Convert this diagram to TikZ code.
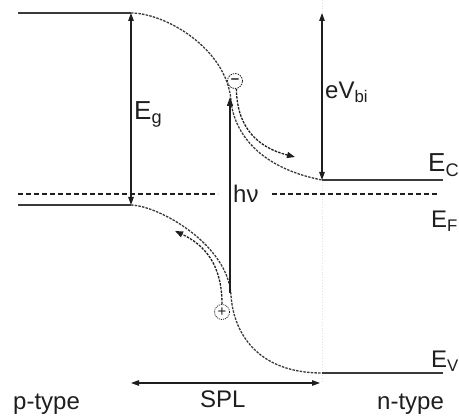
\documentclass[tikz,border=0pt]{standalone}
\usepackage{fontspec}
\setmainfont{Liberation Sans}
\usepackage{xcolor}
\definecolor{bdink}{HTML}{1E1E1E}
\definecolor{bdline}{HTML}{3A3A3A}
\definecolor{bdfaint}{HTML}{E2E2E2}
\usetikzlibrary{arrows.meta,positioning,calc}
\tikzset{
  bdband/.style   ={line width=1.4pt, draw=bdline},
  bdbend/.style   ={line width=1.3pt, draw=bdline, dash pattern=on 2.5pt off 1.2pt},
  bdfermi/.style  ={line width=1.1pt, draw=bdink, dash pattern=on 5pt off 3pt},
  bdarrow/.style  ={{Triangle[length=8pt,width=5.5pt]}-{Triangle[length=8pt,width=5.5pt]},
                    line width=1.2pt, draw=bdink},
  bdphoton/.style ={-{Triangle[length=9pt,width=6pt]}, line width=1.4pt, draw=bdink},
  bdpath/.style   ={-{Triangle[length=8pt,width=6pt]}, line width=1.3pt, draw=bdink,
                    dash pattern=on 2.5pt off 1.2pt},
  bdcarrier/.style={circle, draw=bdink, line width=0.8pt, dash pattern=on 1.5pt off 1pt,
                    minimum size=15pt, inner sep=0pt, text=bdink,
                    font=\fontsize{15}{15}\selectfont},
  bdlbl/.style    ={font=\fontsize{24}{28}\selectfont, text=bdink, inner sep=0pt,
                    anchor=base west},
  bdlble/.style   ={bdlbl, font=\fontsize{26}{30}\selectfont},
}

\begin{document}
\begin{tikzpicture}[x=1pt, y=-1pt]
  \useasboundingbox (0,0) rectangle (459,417);
  % band edges and fixed points
  \coordinate (cbL) at (18,13);
  \coordinate (cbA) at (131,13);
  \coordinate (cbM) at (231,100);
  \coordinate (cbB) at (322,180);
  \coordinate (cbR) at (443,180);
  \coordinate (vbL) at (18,205);
  \coordinate (vbA) at (131,205);
  \coordinate (vbM) at (231,295);
  \coordinate (vbB) at (322,373);
  \coordinate (vbR) at (443,373);
  \coordinate (efL) at (18,194);
  \coordinate (efGapL) at (218,194);
  \coordinate (efGapR) at (272,194);
  \coordinate (efR) at (439,194);
  \coordinate (vbiTop) at (322,13);
  \coordinate (sepTop) at (322,0);
  \coordinate (sepBot) at (322,383);
  \coordinate (splL) at (131,383);
  \coordinate (splR) at (320,383);
  \coordinate (hvFoot) at (230,293);
  \coordinate (hvTip) at (230,97);
  \coordinate (elTip) at (295,157);
  \coordinate (hoTip) at (175,231);

  \draw[bdfaint, line width=0.8pt, dotted] (sepTop) -- (sepBot);

  \draw[bdband] (cbL) -- (cbA);
  \draw[bdbend] (cbA) .. controls (165,13) and (226,48) .. (cbM)
                      .. controls (232,118) and (245,165) .. (cbB);
  \draw[bdband] (cbB) -- (cbR);

  \draw[bdband] (vbL) -- (vbA);
  \draw[bdbend] (vbA) .. controls (160,206) and (228,245) .. (vbM)
                      .. controls (233,330) and (255,373) .. (vbB);
  \draw[bdband] (vbB) -- (vbR);

  \draw[bdfermi] (efL) -- (efGapL);
  \draw[bdfermi] (efGapR) -- (efR);

  \node[bdcarrier] (el) at (235,81) {\textbf{–}};
  \node[bdcarrier, dash pattern=on 1pt off 1pt] (ho) at (222,312) {+};

  \draw[bdarrow] (cbA) -- (vbA);
  \draw[bdarrow] (vbiTop) -- (cbB);
  \draw[bdarrow] (splL) -- (splR);
  \draw[bdphoton] (hvFoot) -- (hvTip);
  \draw[bdpath] (el.-80) .. controls (237,130) and (260,148) .. (elTip);
  \draw[bdpath] (ho.north) .. controls (222,265) and (205,245) .. (hoTip);

  \node[bdlble] (lEg) at (134,120) {E\textsubscript{g}};
  \node[bdlbl] (lVbi) at (325,99) {eV\textsubscript{bi}};
  \node[bdlbl] (lhv) at (233,203) {hν};
  \node[bdlble] (lEc) at (428,172) {E\textsubscript{C}};
  \node[bdlbl] (lEf) at (431,228) {E\textsubscript{F}};
  \node[bdlbl] (lEv) at (431,368) {E\textsubscript{V}};
  \node[bdlbl] (lp) at (13,410) {p-type};
  \node[bdlbl] (lspl) at (200,408) {SPL};
  \node[bdlbl] (ln) at (377,410) {n-type};
\end{tikzpicture}
\end{document}
